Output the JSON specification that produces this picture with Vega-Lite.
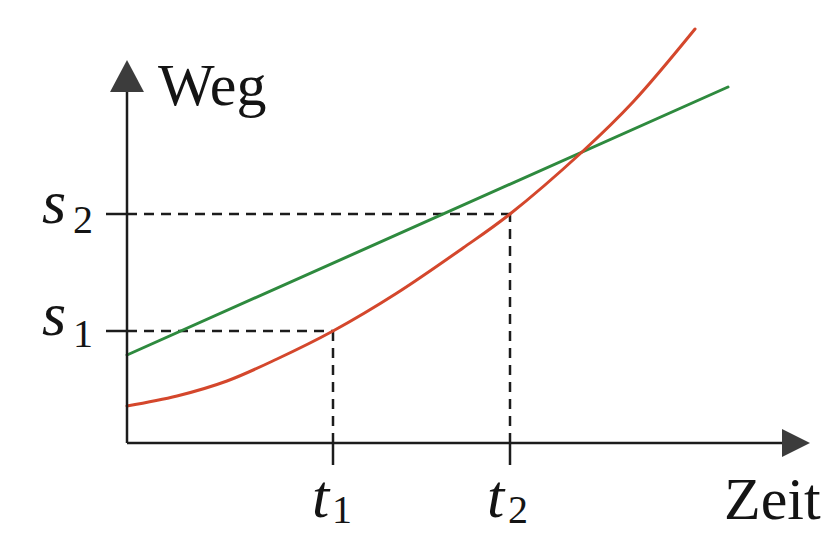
{
  "$schema": "https://vega.github.io/schema/vega-lite/v6.json",
  "width": 827,
  "height": 535,
  "autosize": {"type": "none"},
  "padding": 0,
  "background": "white",
  "config": {"view": {"stroke": null}},
  "datasets": {
    "curves": [
      {"series": "gleichförmig", "t": 0, "s": 0.88},
      {"series": "gleichförmig", "t": 6.01, "s": 3.56},
      {"series": "beschleunigt", "t": 0, "s": 0.37},
      {"series": "beschleunigt", "t": 0.5, "s": 0.47},
      {"series": "beschleunigt", "t": 1.0, "s": 0.62},
      {"series": "beschleunigt", "t": 1.5, "s": 0.84},
      {"series": "beschleunigt", "t": 2.06, "s": 1.12},
      {"series": "beschleunigt", "t": 2.7, "s": 1.5},
      {"series": "beschleunigt", "t": 3.36, "s": 1.95},
      {"series": "beschleunigt", "t": 3.83, "s": 2.29},
      {"series": "beschleunigt", "t": 4.55, "s": 2.91},
      {"series": "beschleunigt", "t": 5.06, "s": 3.41},
      {"series": "beschleunigt", "t": 5.68, "s": 4.14}
    ],
    "guides": [
      {"kind": "dash", "x": 0, "x2": 2.06, "y": 1.12, "y2": 1.12},
      {"kind": "dash", "x": 2.06, "x2": 2.06, "y": 0, "y2": 1.12},
      {"kind": "dash", "x": 0, "x2": 3.83, "y": 2.29, "y2": 2.29},
      {"kind": "dash", "x": 3.83, "x2": 3.83, "y": 0, "y2": 2.29},
      {"kind": "solid", "x": -0.21, "x2": 0, "y": 1.12, "y2": 1.12},
      {"kind": "solid", "x": -0.21, "x2": 0, "y": 2.29, "y2": 2.29},
      {"kind": "solid", "x": 2.06, "x2": 2.06, "y": -0.22, "y2": 0},
      {"kind": "solid", "x": 3.83, "x2": 3.83, "y": -0.22, "y2": 0},
      {"kind": "solid", "x": 0, "x2": 0, "y": 0, "y2": 3.55},
      {"kind": "solid", "x": 0, "x2": 6.6, "y": 0, "y2": 0}
    ],
    "arrows": [
      {"dir": "up", "x": 0, "y": 3.67},
      {"dir": "right", "x": 6.69, "y": 0}
    ],
    "labels": [
      {"role": "word", "text": "Weg", "x": 0.31, "y": 3.38},
      {"role": "word", "text": "Zeit", "x": 5.97, "y": -0.76},
      {"role": "symbol", "text": "s", "x": -0.85, "y": 2.2},
      {"role": "index", "text": "2", "x": -0.54, "y": 2.1},
      {"role": "symbol", "text": "s", "x": -0.85, "y": 1.08},
      {"role": "index", "text": "1", "x": -0.54, "y": 0.96},
      {"role": "symbol", "text": "t", "x": 1.85, "y": -0.74},
      {"role": "index", "text": "1", "x": 2.05, "y": -0.8},
      {"role": "symbol", "text": "t", "x": 3.6, "y": -0.74},
      {"role": "index", "text": "2", "x": 3.81, "y": -0.8}
    ]
  },
  "resolve": {"scale": {"x": "shared", "y": "shared"}},
  "layer": [
    {
      "data": {"name": "guides"},
      "transform": [{"filter": "datum.kind === 'dash'"}],
      "mark": {"type": "rule", "color": "#1c1c1c", "strokeWidth": 2.5, "strokeDash": [10, 7]},
      "encoding": {
        "x": {"field": "x", "type": "quantitative", "scale": {"domain": [-1.27, 7.0], "nice": false, "zero": false}, "axis": null},
        "x2": {"field": "x2"},
        "y": {"field": "y", "type": "quantitative", "scale": {"domain": [-0.92, 4.43], "nice": false, "zero": false}, "axis": null},
        "y2": {"field": "y2"}
      }
    },
    {
      "data": {"name": "curves"},
      "mark": {"type": "line", "interpolate": "catmull-rom", "strokeWidth": 3, "strokeCap": "round"},
      "encoding": {
        "x": {"field": "t", "type": "quantitative", "axis": null},
        "y": {"field": "s", "type": "quantitative", "axis": null},
        "order": {"field": "t"},
        "color": {
          "field": "series",
          "type": "nominal",
          "scale": {"domain": ["gleichförmig", "beschleunigt"], "range": ["#2e8a3e", "#d4472c"]},
          "legend": null
        }
      }
    },
    {
      "data": {"name": "guides"},
      "transform": [{"filter": "datum.kind === 'solid'"}],
      "mark": {"type": "rule", "color": "#1c1c1c", "strokeWidth": 2.5},
      "encoding": {
        "x": {"field": "x", "type": "quantitative", "axis": null},
        "x2": {"field": "x2"},
        "y": {"field": "y", "type": "quantitative", "axis": null},
        "y2": {"field": "y2"}
      }
    },
    {
      "data": {"name": "arrows"},
      "mark": {"type": "point", "filled": true, "size": 1024, "opacity": 1, "color": "#3c3c3c", "strokeWidth": 0},
      "encoding": {
        "x": {"field": "x", "type": "quantitative", "axis": null},
        "y": {"field": "y", "type": "quantitative", "axis": null},
        "shape": {
          "field": "dir",
          "type": "nominal",
          "scale": {"domain": ["up", "right"], "range": ["M0,-1L1.06,1L-1.06,1Z", "M0.875,0L-0.875,0.875L-0.875,-0.875Z"]},
          "legend": null
        }
      }
    },
    {
      "data": {"name": "labels"},
      "transform": [{"filter": "datum.role === 'word'"}],
      "mark": {"type": "text", "font": "'Liberation Serif', 'DejaVu Serif', serif", "fontSize": 60, "align": "left", "baseline": "alphabetic", "color": "#141414"},
      "encoding": {
        "x": {"field": "x", "type": "quantitative", "axis": null},
        "y": {"field": "y", "type": "quantitative", "axis": null},
        "text": {"field": "text"}
      }
    },
    {
      "data": {"name": "labels"},
      "transform": [{"filter": "datum.role === 'symbol'"}],
      "mark": {"type": "text", "font": "'Liberation Serif', 'DejaVu Serif', serif", "fontStyle": "italic", "fontSize": 62, "align": "left", "baseline": "alphabetic", "color": "#141414"},
      "encoding": {
        "x": {"field": "x", "type": "quantitative", "axis": null},
        "y": {"field": "y", "type": "quantitative", "axis": null},
        "text": {"field": "text"}
      }
    },
    {
      "data": {"name": "labels"},
      "transform": [{"filter": "datum.role === 'index'"}],
      "mark": {"type": "text", "font": "'Liberation Serif', 'DejaVu Serif', serif", "fontSize": 40, "align": "left", "baseline": "alphabetic", "color": "#141414"},
      "encoding": {
        "x": {"field": "x", "type": "quantitative", "axis": null},
        "y": {"field": "y", "type": "quantitative", "axis": null},
        "text": {"field": "text"}
      }
    }
  ]
}
